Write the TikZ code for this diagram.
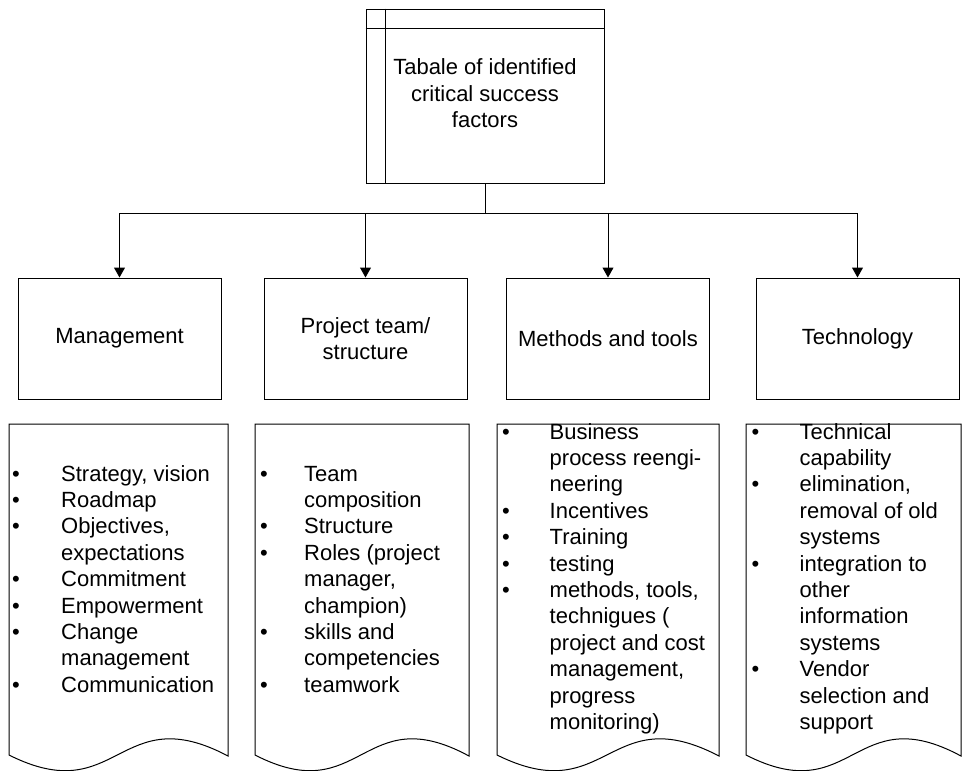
\documentclass[tikz,border=0pt]{standalone}
\usepackage{fontspec}
\setmainfont{Liberation Sans}
\usetikzlibrary{arrows.meta}
\newlength\bind
\newcommand\bi[1]{\makebox[\bind][l]{•}#1}
\newcommand\ci[1]{\hspace*{\bind}#1}
\newcommand\doctext[2]{\begin{minipage}[t]{300pt}\fontsize{22}{26.4}\selectfont\setlength\bind{#1}#2\end{minipage}}
\tikzset{
  line/.style={line width=1pt, draw=black},
  arr/.style={line, -{Triangle[width=11pt,length=10pt]}},
  catbox/.style={line, minimum width=203pt, minimum height=121pt, inner sep=0pt,
    align=center, font=\fontsize{22}{26.4}\selectfont},
  lbl/.style={align=center, inner sep=0pt, font=\fontsize{22}{26.4}\selectfont},
  doctxt/.style={anchor=base west, inner sep=0pt}
}
\begin{document}
\begin{tikzpicture}[x=1pt,y=-1pt]
\useasboundingbox (0,0) rectangle (962,771);
% top box
\node[line, minimum width=238pt, minimum height=174pt, inner sep=0pt] (top) at (485,96) {};
\draw[line] ([xshift=20pt]top.north west) -- ([xshift=20pt]top.south west);
\draw[line] ([yshift=-19.7pt]top.north west) -- ([yshift=-19.7pt]top.north east);
\node[lbl] (toplbl) at (485,93.5) {Tabale of identified\\critical success\\factors};
% category boxes
\node[catbox, draw] (mgmt) at (119.5,338.5) {Management};
\node[catbox, draw] (team) at (365.5,338.5) {Project team/\\structure};
\node[catbox, draw] (meth) at (608,338.5) {Methods and tools};
\node[catbox, draw] (tech) at (857.5,338.5) {Technology};
% connectors
\coordinate (hub) at (485,213);
\draw[line] (top.south) -- (hub);
\draw[arr] (hub) -| (mgmt.north);
\draw[arr] (hub) -| (team.north);
\draw[arr] (hub) -| (meth.north);
\draw[arr] (hub) -| (tech.north);
% document shapes
\draw[line] (9,424) -- (228,424) -- (228,756) .. controls (118.5,698) and (118.5,810) .. (9,755) -- cycle;
\draw[line] (255,424) -- (469,424) -- (469,756) .. controls (362,698) and (362,810) .. (255,755) -- cycle;
\draw[line] (497,424) -- (719,424) -- (719,756) .. controls (608,698) and (608,810) .. (497,755) -- cycle;
\draw[line] (746,424) -- (961,424) -- (961,756) .. controls (853.5,698) and (853.5,810) .. (746,755) -- cycle;
% document texts
\node[doctxt] (d1) at (12,481) {\doctext{49pt}{%
\bi{Strategy, vision}\\
\bi{Roadmap}\\
\bi{Objectives,}\\
\ci{expectations}\\
\bi{Commitment}\\
\bi{Empowerment}\\
\bi{Change}\\
\ci{management}\\
\bi{Communication}}};
\node[doctxt] (d2) at (260,481) {\doctext{44pt}{%
\bi{Team}\\
\ci{composition}\\
\bi{Structure}\\
\bi{Roles (project}\\
\ci{manager,}\\
\ci{champion)}\\
\bi{skills and}\\
\ci{competencies}\\
\bi{teamwork}}};
\node[doctxt] (d3) at (502,439) {\doctext{47.5pt}{%
\bi{Business}\\
\ci{process reengi-}\\
\ci{neering}\\
\bi{Incentives}\\
\bi{Training}\\
\bi{testing}\\
\bi{methods, tools,}\\
\ci{technigues (}\\
\ci{project and cost}\\
\ci{management,}\\
\ci{progress}\\
\ci{monitoring)}}};
\node[doctxt] (d4) at (751.5,439) {\doctext{48pt}{%
\bi{Technical}\\
\ci{capability}\\
\bi{elimination,}\\
\ci{removal of old}\\
\ci{systems}\\
\bi{integration to}\\
\ci{other}\\
\ci{information}\\
\ci{systems}\\
\bi{Vendor}\\
\ci{selection and}\\
\ci{support}}};
\end{tikzpicture}
\end{document}
